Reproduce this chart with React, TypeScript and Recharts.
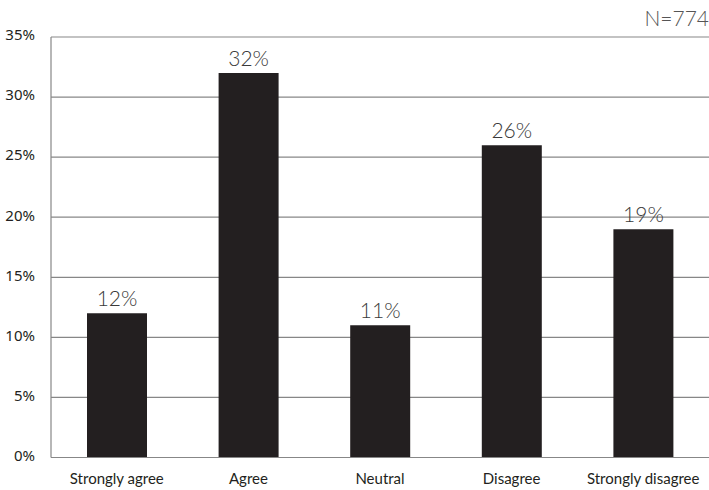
import React from 'react';
import { BarChart, Bar, XAxis, YAxis, CartesianGrid, LabelList } from 'recharts';

const categories = ['Strongly agree', 'Agree', 'Neutral', 'Disagree', 'Strongly disagree'];
const shares = [12, 32, 11, 26, 19];
const yTicks = [0, 5, 10, 15, 20, 25, 30, 35];
const sampleNote = 'N=774';

const rows = categories.map((category, i) => ({ category, share: shares[i] }));

const lineColor = '#878787';
const ink = '#231f20';

const App: React.FC = () => (
  <div
    style={{
      position: 'fixed',
      left: 0,
      top: 0,
      width: 709,
      height: 490,
      overflow: 'hidden',
      background: '#fff',
    }}
  >
    <BarChart
      width={709}
      height={490}
      data={rows}
      margin={{ top: 37, right: 0, bottom: 0, left: 0 }}
      barCategoryGap={0}
    >
      <CartesianGrid vertical={false} stroke={lineColor} strokeWidth={1.2} />
      <XAxis
        dataKey="category"
        axisLine={{ stroke: lineColor, strokeWidth: 1.2 }}
        tickLine={false}
        tickSize={0}
        height={32.5}
        tick={{ fill: ink, fontSize: 15, fontFamily: 'Lato, sans-serif' }}
        tickMargin={16}
        interval={0}
      />
      <YAxis
        domain={[0, 35]}
        ticks={yTicks}
        tickFormatter={(v: number) => `${v}%`}
        axisLine={{ stroke: lineColor, strokeWidth: 1.2 }}
        tickLine={false}
        tickSize={0}
        width={51}
        tickMargin={16}
        tick={{ fill: ink, fontSize: 15, fontFamily: '"Noto Sans", sans-serif', dy: -2 }}
      />
      <Bar dataKey="share" fill={ink} barSize={60} isAnimationActive={false}>
        <LabelList
          dataKey="share"
          position="top"
          offset={7}
          fill="#3a3a3a"
          formatter={(v: number) => `${v}%`}
          style={{ fontSize: 21, fontFamily: 'Lato, sans-serif', fontWeight: 300 }}
        />
      </Bar>
    </BarChart>
    <svg width={709} height={40} style={{ position: 'absolute', left: 0, top: 0 }}>
      <text
        x={709}
        y={26}
        textAnchor="end"
        fill="#555"
        fontSize={21}
        fontFamily="Lato, sans-serif"
        fontWeight={300}
      >
        {sampleNote}
      </text>
    </svg>
  </div>
);

export default App;
